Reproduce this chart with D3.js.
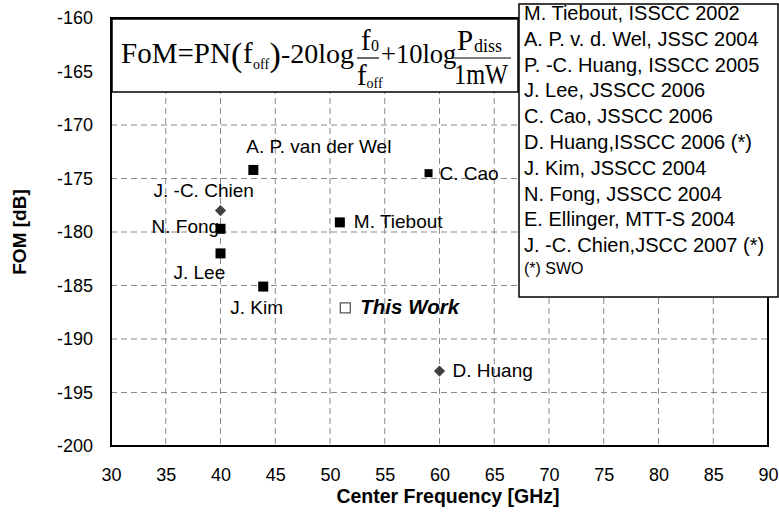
<!DOCTYPE html>
<html>
<head>
<meta charset="utf-8">
<script src="https://cdn.jsdelivr.net/npm/d3@7"></script>
<style>
  body { margin: 0; background: #fff; }
  svg text { font-family: "Liberation Sans", Arial, sans-serif; fill: #000; }
  .serif text { font-family: "Liberation Serif", "Times New Roman", serif; }
</style>
</head>
<body>
<svg id="chart" width="779" height="526"></svg>
<script>
// Axis ticks
const xTicks = [30, 35, 40, 45, 50, 55, 60, 65, 70, 75, 80, 85, 90];
const xTickLabels = ["30", "35", "40", "45", "50", "55", "60", "65", "70", "75", "80", "85", "90"];
const yTicks = [-160, -165, -170, -175, -180, -185, -190, -195, -200];
const yTickLabels = ["-160", "-165", "-170", "-175", "-180", "-185", "-190", "-195", "-200"];

// Published VCO results: centre frequency (GHz) and figure of merit (dB)
const designs = ["M. Tiebout", "A. P. van der Wel", "C. Cao", "J. -C. Chien", "N. Fong",
                 "J. Lee", "J. Kim", "D. Huang", "This Work"];
const centerFreq = [50.9, 43, 59, 40, 40, 40, 43.9, 60, 51.4];
const fom = [-179.1, -174.2, -174.5, -178, -179.7, -182, -185.1, -193, -187.1];
const markerKind = ["square", "square", "smallSquare", "diamond", "square",
                    "square", "square", "diamond", "open"];

// Reference list
const legendEntries = [
  "M. Tiebout, ISSCC 2002",
  "A. P. v. d. Wel, JSSC 2004",
  "P. -C. Huang, ISSCC 2005",
  "J. Lee, JSSCC 2006",
  "C. Cao, JSSCC 2006",
  "D. Huang,ISSCC 2006 (*)",
  "J. Kim, JSSCC 2004",
  "N. Fong, JSSCC 2004",
  "E. Ellinger, MTT-S 2004",
  "J. -C. Chien,JSCC 2007 (*)"
];
const legendNote = "(*) SWO";

const svg = d3.select("#chart");
const plot = { left: 111, right: 768, top: 18, bottom: 446 };

const x = d3.scaleLinear().domain([30, 90]).range([plot.left, plot.right]);
const y = d3.scaleLinear().domain([-200, -160]).range([plot.bottom, plot.top]);

// Dashed grid
const grid = svg.append("g").attr("stroke", "#8a8a8a").attr("stroke-width", 1)
  .attr("stroke-dasharray", "6,4");
grid.selectAll("line.v").data(xTicks.slice(1, -1)).join("line")
  .attr("x1", d => x(d)).attr("x2", d => x(d))
  .attr("y1", plot.top).attr("y2", plot.bottom);
grid.selectAll("line.h").data(yTicks.slice(1, -1)).join("line")
  .attr("x1", plot.left).attr("x2", plot.right)
  .attr("y1", d => y(d)).attr("y2", d => y(d));

// Axes (labels only; frame drawn separately)
const xAxis = svg.append("g").attr("transform", `translate(0,${plot.bottom})`)
  .call(d3.axisBottom(x).tickValues(xTicks).tickSize(0).tickPadding(22)
    .tickFormat((d, i) => xTickLabels[i]));
xAxis.select(".domain").remove();
xAxis.selectAll("text").attr("font-size", 18).attr("font-family", "Liberation Sans, Arial, sans-serif");

const yAxis = svg.append("g").attr("transform", `translate(${plot.left},0)`)
  .call(d3.axisLeft(y).tickValues(yTicks).tickSize(0).tickPadding(18)
    .tickFormat((d, i) => yTickLabels[i]));
yAxis.select(".domain").remove();
yAxis.selectAll("text").attr("font-size", 18).attr("font-family", "Liberation Sans, Arial, sans-serif");

// Plot frame
svg.append("rect")
  .attr("x", plot.left).attr("y", plot.top)
  .attr("width", plot.right - plot.left).attr("height", plot.bottom - plot.top)
  .attr("fill", "none").attr("stroke", "#000").attr("stroke-width", 2);

// Axis titles
svg.append("text")
  .attr("x", 448).attr("y", 503)
  .attr("text-anchor", "middle").attr("font-size", 19.5).attr("font-weight", "bold")
  .text("Center Frequency [GHz]");
svg.append("text")
  .attr("transform", `translate(26,${(plot.top + plot.bottom) / 2}) rotate(-90)`)
  .attr("text-anchor", "middle").attr("font-size", 19).attr("font-weight", "bold")
  .text("FOM [dB]");

// FoM formula box
const fb = svg.append("g").attr("class", "serif");
fb.append("rect").attr("x", 112).attr("y", 19).attr("width", 406).attr("height", 73)
  .attr("fill", "#fff").attr("stroke", "#000").attr("stroke-width", 1.5);

// each run: [text, x, baseline, font size]
function formulaLine(runs, fitWidth) {
  const t = fb.append("text");
  runs.forEach(([s, tx, ty, size]) => {
    t.append("tspan").attr("x", tx).attr("y", ty).attr("font-size", size).text(s);
  });
  if (fitWidth) t.attr("textLength", fitWidth).attr("lengthAdjust", "spacingAndGlyphs");
  return t;
}
// main line
formulaLine([
  ["FoM=PN", 121, 63, 29],
  ["(", 231, 66, 34],
  ["f", 243, 63, 29],
  ["off", 253, 69, 14],
  [")", 269.5, 66, 34],
  ["-20log", 281, 63, 28],
  ["+10log", 381, 63, 26.5]
]);
// first fraction f0 / foff
formulaLine([["f", 361, 50, 29], ["0", 371, 51, 16]]);
formulaLine([["f", 357, 85, 29], ["off", 366.5, 88, 14]]);
fb.append("line").attr("x1", 357).attr("x2", 379).attr("y1", 58).attr("y2", 58)
  .attr("stroke", "#000").attr("stroke-width", 1.2);
// second fraction Pdiss / 1mW
formulaLine([["P", 457, 50, 29], ["diss", 474, 52, 18]]);
formulaLine([["1mW", 454, 84, 29]], 54);
fb.append("line").attr("x1", 452).attr("x2", 511).attr("y1", 58).attr("y2", 58)
  .attr("stroke", "#000").attr("stroke-width", 1.2);

// Markers
const sym = {
  square: { path: d3.symbol().type(d3.symbolSquare).size(100)(), rot: 0, fill: "#000", stroke: "none" },
  smallSquare: { path: d3.symbol().type(d3.symbolSquare).size(64)(), rot: 0, fill: "#000", stroke: "none" },
  diamond: { path: d3.symbol().type(d3.symbolSquare).size(62)(), rot: 45, fill: "#404040", stroke: "none" },
  open: { path: d3.symbol().type(d3.symbolSquare).size(100)(), rot: 0, fill: "#fff", stroke: "#555" }
};
const pts = designs.map((name, i) => ({ name, f: centerFreq[i], v: fom[i], k: markerKind[i] }));

svg.append("g").selectAll("path").data(pts).join("path")
  .attr("transform", d => `translate(${x(d.f)},${y(d.v)}) rotate(${sym[d.k].rot})`)
  .attr("d", d => sym[d.k].path)
  .attr("fill", d => sym[d.k].fill)
  .attr("stroke", d => sym[d.k].stroke)
  .attr("stroke-width", 1.3);

// Point labels, offset from their marks
const labelOffset = {
  "M. Tiebout": [14, 5.5], "A. P. van der Wel": [-7, -17], "C. Cao": [11, 6.5],
  "J. -C. Chien": [-67, -14], "N. Fong": [-69, 4], "J. Lee": [-47, 26],
  "J. Kim": [-33, 27], "D. Huang": [13, 5.5], "This Work": [15, 6]
};
svg.append("g").selectAll("text").data(pts).join("text")
  .attr("x", d => x(d.f) + labelOffset[d.name][0])
  .attr("y", d => y(d.v) + labelOffset[d.name][1])
  .attr("font-size", d => d.name === "This Work" ? 20.5 : 19)
  .attr("font-weight", d => d.name === "This Work" ? "bold" : "normal")
  .attr("font-style", d => d.name === "This Work" ? "italic" : "normal")
  .text(d => d.name);

// Reference legend
const lg = svg.append("g");
lg.append("rect").attr("x", 519).attr("y", 4).attr("width", 259).attr("height", 293)
  .attr("fill", "#fff").attr("stroke", "#000").attr("stroke-width", 1.5);
lg.selectAll("text.entry").data(legendEntries).join("text")
  .attr("class", "entry")
  .attr("x", 524).attr("y", (d, i) => 20 + i * 25.8)
  .attr("font-size", 20).text(d => d);
lg.append("text").attr("x", 524).attr("y", 274).attr("font-size", 16).text(legendNote);
</script>
</body>
</html>
